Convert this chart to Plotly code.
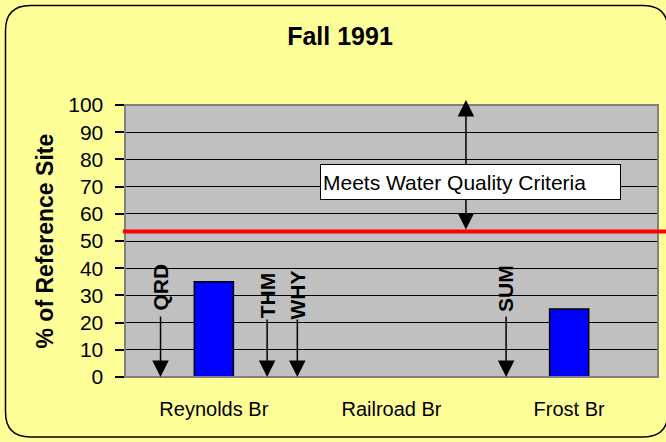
import plotly.graph_objects as go

# ---------------- data ----------------
sites = ["Reynolds Br", "Railroad Br", "Frost Br"]
pct_of_reference = [35, None, 25]
y_ticks = [0, 10, 20, 30, 40, 50, 60, 70, 80, 90, 100]
criteria_level = 53.5
criteria_label = "Meets Water Quality Criteria"

marker_names = ["QRD", "THM", "WHY", "SUM"]
marker_x = [-0.30, 0.30, 0.47, 1.645]          # position along the site axis
marker_tail = [22.8, 21.7, 21.7, 22.8]           # arrow tail (value)
marker_label_y = [33.1, 30.1, 30.1, 32.4]        # label centre (value)

FONT = "Liberation Sans, Arial, sans-serif"

# plot area in pixels (for paper-coordinate conversion of decoration)
L, R, T, B = 125, 658, 105, 377
W, H = 666, 442


def px(xp):
    return (xp - L) / (R - L)


def py(yp):
    return (B - yp) / (B - T)


fig = go.Figure()
fig.add_trace(go.Bar(
    x=sites, y=pct_of_reference, width=0.22,
    marker=dict(color="#0000FF", line=dict(color="black", width=1.5)),
    showlegend=False, hoverinfo="skip",
))

shapes = []
# outer rounded chart border
r = 25
x0, x1, y0, y1 = 5.5, 668, 5.5, 437
path = (f"M{px(x0+r)},{py(y0)} L{px(x1-r)},{py(y0)} Q{px(x1)},{py(y0)} {px(x1)},{py(y0+r)} "
        f"L{px(x1)},{py(y1-r)} Q{px(x1)},{py(y1)} {px(x1-r)},{py(y1)} "
        f"L{px(x0+r)},{py(y1)} Q{px(x0)},{py(y1)} {px(x0)},{py(y1-r)} "
        f"L{px(x0)},{py(y0+r)} Q{px(x0)},{py(y0)} {px(x0+r)},{py(y0)} Z")
shapes.append(dict(type="path", xref="paper", yref="paper", path=path,
                   line=dict(color="black", width=1.5), layer="below"))
# plot area border
shapes.append(dict(type="rect", xref="paper", yref="paper", x0=0, x1=1, y0=0, y1=1,
                   line=dict(color="#808080", width=2)))
# criteria line
shapes.append(dict(type="line", xref="paper", yref="y", x0=-0.004, x1=px(668),
                   y0=criteria_level, y1=criteria_level,
                   line=dict(color="#FF0000", width=4)))

annotations = []
# station arrows
for name, xm, tail, ly in zip(marker_names, marker_x, marker_tail, marker_label_y):
    annotations.append(dict(x=xm, y=0, ax=xm, ay=tail, xref="x", yref="y",
                            axref="x", ayref="y", text="", showarrow=True,
                            arrowhead=2, arrowsize=2.2, arrowwidth=1.5,
                            arrowcolor="black"))
    annotations.append(dict(x=xm, y=ly, xref="x", yref="y", text=f"<b>{name}</b>",
                            textangle=-90, showarrow=False,
                            xanchor="center", yanchor="middle",
                            font=dict(family=FONT, size=21, color="black")))

# double arrow
arrow_x = 1.419
annotations.append(dict(x=arrow_x, y=101.8, ax=arrow_x, ay=72, xref="x", yref="y",
                        axref="x", ayref="y", text="", showarrow=True,
                        arrowhead=2, arrowsize=2.2, arrowwidth=1.5, arrowcolor="black"))
annotations.append(dict(x=arrow_x, y=criteria_level + 0.7, ax=arrow_x, ay=72, xref="x", yref="y",
                        axref="x", ayref="y", text="", showarrow=True,
                        arrowhead=2, arrowsize=2.2, arrowwidth=1.5, arrowcolor="black"))
# criteria box
annotations.append(dict(x=px(470), y=py(181.5), xref="paper", yref="paper",
                        xanchor="center", yanchor="middle",
                        text=criteria_label, showarrow=False, align="left",
                        width=295, height=30, bgcolor="white", bordercolor="black",
                        borderwidth=1, borderpad=2,
                        font=dict(family=FONT, size=21, color="black")))
# y axis title
annotations.append(dict(x=px(44), y=py(241.5), xref="paper", yref="paper",
                        xanchor="center", yanchor="middle",
                        text="<b>% of Reference Site</b>", textangle=-90, showarrow=False,
                        font=dict(family=FONT, size=23, color="black")))

fig.update_layout(
    width=W, height=H,
    margin=dict(l=L, r=W - R, t=T, b=H - B),
    paper_bgcolor="#FFFF99",
    plot_bgcolor="#C0C0C0",
    title=dict(text="<b>Fall 1991</b>", x=340 / W, xref="container", xanchor="center",
               y=1 - 36 / H, yref="container", yanchor="middle",
               font=dict(family=FONT, size=25, color="black")),
    font=dict(family=FONT, size=20, color="black"),
    shapes=shapes,
    annotations=annotations,
    bargap=0.78,
)
fig.update_xaxes(type="category", range=[-0.5, 2.5], showgrid=False, ticks="",
                 ticklabelstandoff=18, tickfont=dict(family=FONT, size=20, color="black"),
                 showline=False, zeroline=False)
fig.update_yaxes(range=[0, 100], tickvals=y_ticks, showgrid=True, gridcolor="black",
                 gridwidth=1, ticks="outside", ticklen=9, tickcolor="black", tickwidth=2,
                 ticklabelstandoff=7,
                 showline=True, linecolor="black", linewidth=1.5, zeroline=False,
                 tickfont=dict(family=FONT, size=21, color="black"))

fig.write_html("out.html", config={"displayModeBar": False, "staticPlot": True},
               post_script="document.body.style.margin='0';")
